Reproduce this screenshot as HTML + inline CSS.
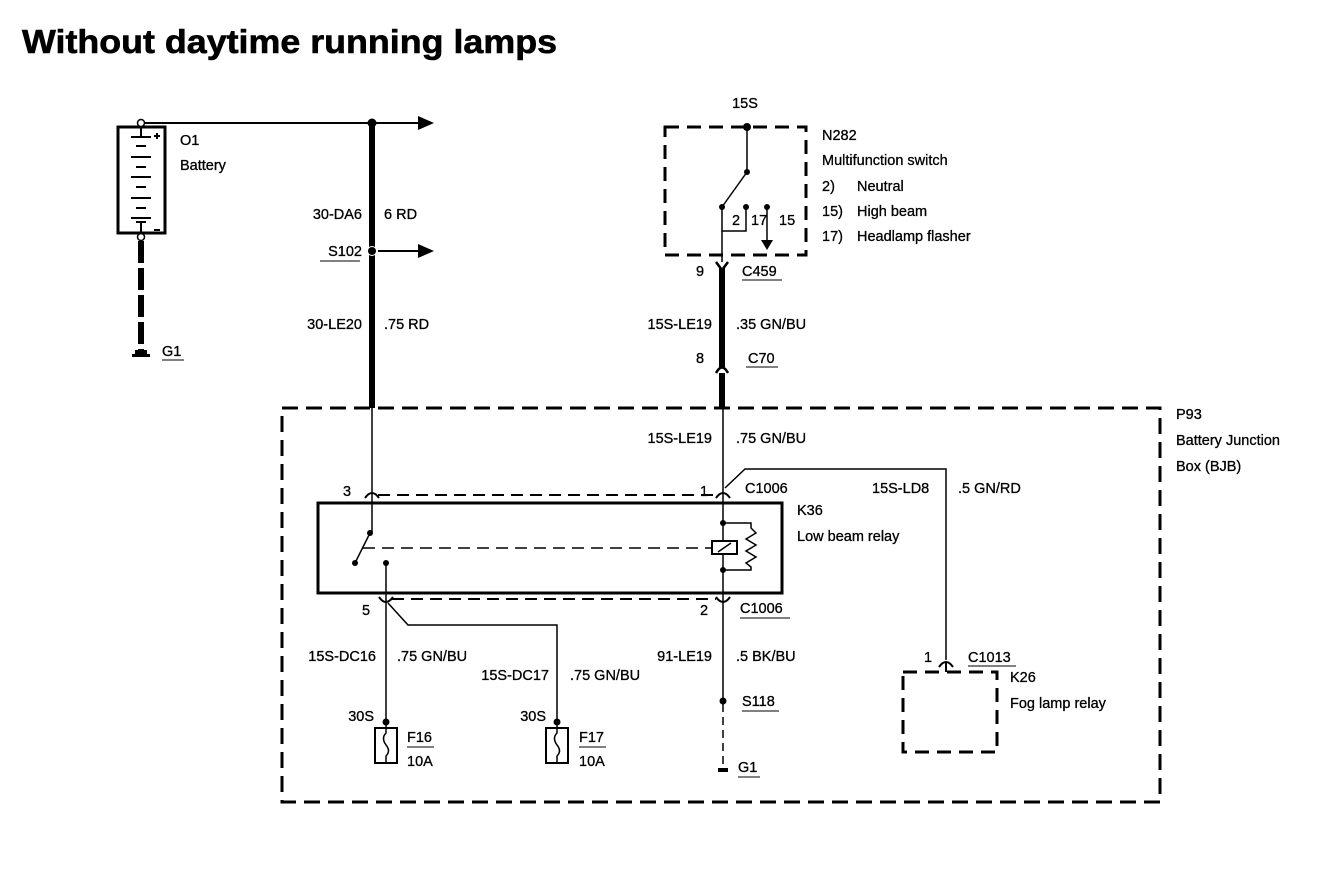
<!DOCTYPE html>
<html><head><meta charset="utf-8"><style>
html,body{margin:0;padding:0;background:#fff;}
svg{display:block;}
text{font-family:"Liberation Sans",Arial,sans-serif;font-size:14.5px;fill:#000;stroke:#000;stroke-width:0.3;}
.t{font-size:33px;font-weight:bold;stroke-width:0.6;}
</style></head><body>
<svg width="1328" height="872" viewBox="0 0 1328 872" xmlns="http://www.w3.org/2000/svg">
<rect width="1328" height="872" fill="#fff"/>
<text x="22" y="53" class="t" textLength="535" lengthAdjust="spacingAndGlyphs">Without daytime running lamps</text>

<!-- Battery -->
<rect x="118" y="127" width="47" height="106" fill="none" stroke="#000" stroke-width="3"/>
<g stroke="#000" stroke-width="2">
<line x1="141" y1="127" x2="141" y2="137"/><line x1="131" y1="137" x2="151" y2="137"/>
<line x1="136" y1="146" x2="146" y2="146"/><line x1="131" y1="157" x2="151" y2="157"/>
<line x1="136" y1="167" x2="146" y2="167"/><line x1="131" y1="177" x2="151" y2="177"/>
<line x1="136" y1="187" x2="146" y2="187"/><line x1="131" y1="198" x2="151" y2="198"/>
<line x1="136" y1="208" x2="146" y2="208"/><line x1="131" y1="218" x2="151" y2="218"/>
<line x1="141" y1="222" x2="141" y2="233"/><line x1="136" y1="222" x2="146" y2="222"/>
<line x1="154" y1="230" x2="160" y2="230"/><line x1="154" y1="136" x2="160" y2="136"/><line x1="157" y1="133" x2="157" y2="139"/>
</g>
<circle cx="141" cy="123" r="3.5" fill="#fff" stroke="#000" stroke-width="1.5"/>
<circle cx="141" cy="237" r="3.5" fill="#fff" stroke="#000" stroke-width="1.5"/>
<line x1="141" y1="241" x2="141" y2="350" stroke="#000" stroke-width="6" stroke-dasharray="22,5"/>
<rect x="135" y="350" width="12" height="4" fill="#000"/><rect x="132" y="354" width="18" height="3" fill="#000"/>
<text x="180" y="145">O1</text><text x="180" y="170">Battery</text>
<text x="162" y="356">G1</text><line x1="162" y1="360" x2="184" y2="360" stroke="#000"/>

<!-- 30 wire -->
<line x1="145" y1="123" x2="418" y2="123" stroke="#000" stroke-width="2"/>
<polygon points="418,116 434,123 418,130" fill="#000"/>
<line x1="372" y1="123" x2="372" y2="408" stroke="#000" stroke-width="6"/>
<circle cx="372" cy="123" r="4.5" fill="#000"/>
<circle cx="372" cy="251" r="4.5" fill="#000" stroke="#fff" stroke-width="1"/>
<line x1="378" y1="251" x2="418" y2="251" stroke="#000" stroke-width="2"/>
<polygon points="418,244 434,251 418,258" fill="#000"/>
<text x="362" y="219" text-anchor="end">30-DA6</text><text x="384" y="219">6 RD</text>
<text x="362" y="256" text-anchor="end">S102</text><line x1="320" y1="261" x2="360" y2="261" stroke="#000"/>
<text x="362" y="329" text-anchor="end">30-LE20</text><text x="384" y="329">.75 RD</text>
<line x1="372" y1="408" x2="372" y2="533" stroke="#000" stroke-width="1.5"/>

<!-- Switch N282 -->
<rect x="665" y="127" width="141" height="128" fill="none" stroke="#000" stroke-width="3" stroke-dasharray="14,8"/>
<text x="745" y="108" text-anchor="middle">15S</text>
<g stroke="#000" stroke-width="1.5" fill="none">
<line x1="747" y1="127" x2="747" y2="172"/><line x1="747" y1="172" x2="722" y2="207"/>
<polyline points="722,207 722,231 746,231 746,207"/>
<line x1="767" y1="207" x2="767" y2="240"/>
<line x1="722" y1="231" x2="722" y2="262"/>
</g>
<polygon points="761,240 773,240 767,250" fill="#000"/>
<circle cx="747" cy="127" r="4" fill="#000"/><circle cx="747" cy="172" r="3" fill="#000"/>
<circle cx="722" cy="207" r="3" fill="#000"/><circle cx="746" cy="207" r="3" fill="#000"/><circle cx="767" cy="207" r="3" fill="#000"/>
<text x="732" y="225">2</text><text x="751" y="225">17</text><text x="779" y="225">15</text>
<text x="822" y="140">N282</text><text x="822" y="165">Multifunction switch</text>
<text x="822" y="191">2)</text><text x="857" y="191">Neutral</text>
<text x="822" y="216">15)</text><text x="857" y="216">High beam</text>
<text x="822" y="241">17)</text><text x="857" y="241">Headlamp flasher</text>
<path d="M716,262 L722,270 L728,262" stroke="#000" stroke-width="2.5" fill="none"/>
<line x1="722" y1="268" x2="722" y2="408" stroke="#000" stroke-width="6"/>
<path d="M716,373 Q722,362 728,373" stroke="#000" stroke-width="2.5" fill="#fff"/>
<text x="696" y="276">9</text><text x="742" y="276">C459</text><line x1="742" y1="280" x2="782" y2="280" stroke="#000"/>
<text x="712" y="329" text-anchor="end">15S-LE19</text><text x="736" y="329">.35 GN/BU</text>
<text x="696" y="363">8</text><text x="748" y="363">C70</text><line x1="746" y1="367" x2="778" y2="367" stroke="#000"/>

<!-- P93 box -->
<rect x="282" y="408" width="878" height="394" fill="none" stroke="#000" stroke-width="3" stroke-dasharray="16,8"/>
<text x="1176" y="419">P93</text><text x="1176" y="445">Battery Junction</text><text x="1176" y="471">Box (BJB)</text>
<text x="712" y="443" text-anchor="end">15S-LE19</text><text x="736" y="443">.75 GN/BU</text>
<line x1="723" y1="408" x2="723" y2="600" stroke="#000" stroke-width="1.5"/>
<polyline points="725,488 745,469 946,469 946,660" stroke="#000" stroke-width="1.5" fill="none"/>
<text x="872" y="493">15S-LD8</text><text x="958" y="493">.5 GN/RD</text>

<!-- connectors row 1 -->
<line x1="378" y1="495" x2="716" y2="495" stroke="#000" stroke-width="2" stroke-dasharray="12,7"/>
<path d="M365,498 Q372,488 379,498" stroke="#000" stroke-width="2" fill="none"/>
<path d="M716,498 Q723,488 730,498" stroke="#000" stroke-width="2" fill="none"/>
<text x="343" y="496">3</text><text x="700" y="496">1</text>
<text x="745" y="493">C1006</text>

<!-- Relay K36 -->
<rect x="318" y="503" width="464" height="90" fill="none" stroke="#000" stroke-width="3"/>
<text x="797" y="515">K36</text><text x="797" y="541">Low beam relay</text>
<line x1="370" y1="533" x2="355" y2="563" stroke="#000" stroke-width="1.5"/>
<circle cx="370" cy="533" r="3" fill="#000"/><circle cx="355" cy="563" r="3" fill="#000"/>
<line x1="363" y1="548" x2="712" y2="548" stroke="#000" stroke-width="1.5" stroke-dasharray="12,7"/>
<rect x="712" y="541" width="25" height="13" fill="#fff" stroke="#000" stroke-width="2"/>
<line x1="718" y1="552" x2="731" y2="543" stroke="#000" stroke-width="1.5"/>
<circle cx="723" cy="523" r="3" fill="#000"/><circle cx="723" cy="570" r="3" fill="#000"/>
<polyline points="723,523 751,523 751,528 756,533 746,539 756,545 746,551 756,557 746,563 751,567 751,570 723,570" stroke="#000" stroke-width="1.5" fill="none"/>
<circle cx="386" cy="563" r="3" fill="#000"/>
<line x1="386" y1="563" x2="386" y2="722" stroke="#000" stroke-width="1.5"/>

<!-- connectors row 2 -->
<line x1="392" y1="599" x2="716" y2="599" stroke="#000" stroke-width="2" stroke-dasharray="12,7"/>
<path d="M379,597 Q386,607 393,597" stroke="#000" stroke-width="2" fill="none"/>
<path d="M716,597 Q723,607 730,597" stroke="#000" stroke-width="2" fill="none"/>
<text x="362" y="615">5</text><text x="700" y="615">2</text>
<text x="740" y="613">C1006</text><line x1="740" y1="618" x2="790" y2="618" stroke="#000"/>
<polyline points="388,603 408,625 557,625 557,722" stroke="#000" stroke-width="1.5" fill="none"/>

<text x="376" y="661" text-anchor="end">15S-DC16</text><text x="397" y="661">.75 GN/BU</text>
<text x="549" y="680" text-anchor="end">15S-DC17</text><text x="570" y="680">.75 GN/BU</text>
<text x="712" y="661" text-anchor="end">91-LE19</text><text x="736" y="661">.5 BK/BU</text>

<!-- Fuses -->
<text x="374" y="721" text-anchor="end">30S</text>
<circle cx="386" cy="722" r="3.5" fill="#000"/>
<rect x="375" y="728" width="22" height="35" fill="none" stroke="#000" stroke-width="2"/>
<path d="M386,722 L386,733 Q381,738 386,745 Q391,751 386,756 L386,763" stroke="#000" stroke-width="1.5" fill="none"/>
<text x="407" y="742">F16</text><line x1="407" y1="747" x2="434" y2="747" stroke="#000"/><text x="407" y="766">10A</text>

<text x="546" y="721" text-anchor="end">30S</text>
<circle cx="557" cy="722" r="3.5" fill="#000"/>
<rect x="546" y="728" width="22" height="35" fill="none" stroke="#000" stroke-width="2"/>
<path d="M557,722 L557,733 Q552,738 557,745 Q562,751 557,756 L557,763" stroke="#000" stroke-width="1.5" fill="none"/>
<text x="579" y="742">F17</text><line x1="579" y1="747" x2="606" y2="747" stroke="#000"/><text x="579" y="766">10A</text>

<!-- S118 / G1 -->
<line x1="723" y1="600" x2="723" y2="700" stroke="#000" stroke-width="1.5"/>
<circle cx="723" cy="701" r="3.5" fill="#000"/>
<line x1="723" y1="704" x2="723" y2="768" stroke="#000" stroke-width="1.5" stroke-dasharray="8,5"/>
<rect x="718" y="768" width="10" height="4" fill="#000"/>
<text x="742" y="706">S118</text><line x1="742" y1="711" x2="779" y2="711" stroke="#000"/>
<text x="738" y="772">G1</text><line x1="738" y1="777" x2="760" y2="777" stroke="#000"/>

<!-- Fog relay -->
<rect x="903" y="672" width="94" height="80" fill="none" stroke="#000" stroke-width="3" stroke-dasharray="14,8"/>
<path d="M939,667 Q946,657 953,667" stroke="#000" stroke-width="2" fill="none"/>
<line x1="946" y1="663" x2="946" y2="672" stroke="#000" stroke-width="2"/>
<text x="924" y="662">1</text>
<text x="968" y="662">C1013</text><line x1="968" y1="666" x2="1016" y2="666" stroke="#000"/>
<text x="1010" y="682">K26</text><text x="1010" y="708">Fog lamp relay</text>
</svg>
</body></html>
